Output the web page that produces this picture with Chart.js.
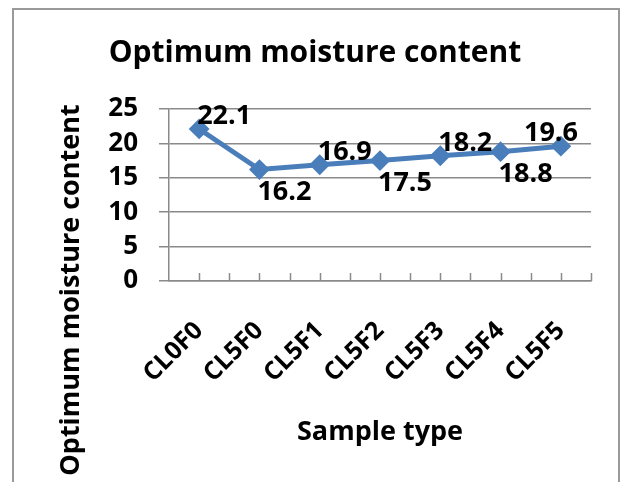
<!DOCTYPE html>
<html>
<head>
<meta charset="utf-8">
<title>Optimum moisture content</title>
<script src="https://cdn.jsdelivr.net/npm/chart.js@4/dist/chart.umd.min.js"></script>
<style>
  html, body { margin: 0; padding: 0; background: #fff; }
  #wrap { position: relative; width: 622px; height: 482px; overflow: hidden; }
  #frame { position: absolute; left: 12px; top: 8px; width: 604px; height: 520px; border: 2px solid #9a9a9a; }
  canvas { position: absolute; left: 0; top: 0; }
</style>
</head>
<body>
<div id="wrap">
  <div id="frame"></div>
  <canvas id="omcChart" width="622" height="482"></canvas>
</div>
<script>
// data
const categories = ['CL0F0', 'CL5F0', 'CL5F1', 'CL5F2', 'CL5F3', 'CL5F4', 'CL5F5'];
const moisture = [22.1, 16.2, 16.9, 17.5, 18.2, 18.8, 19.6];
const yMin = 0;
const yMax = 25;
const yStep = 5;

const chartTitle = 'Optimum moisture content';
const yTitle = 'Optimum moisture content';
const xTitle = 'Sample type';

const FONT = '"Open Sans", Lato, sans-serif';
const BLUE = '#4a7ebb';
const GRID = '#8a8a8a';

// chart title + vertical axis title, placed like the Excel original
const titlesPlugin = {
  id: 'titles',
  afterDraw(chart) {
    const ctx = chart.ctx;
    ctx.save();
    ctx.fillStyle = '#000';
    ctx.textAlign = 'center';
    ctx.textBaseline = 'alphabetic';
    ctx.font = 'bold 30px ' + FONT;
    ctx.fillText(chartTitle, 315, 62);

    ctx.translate(79, 290);
    ctx.rotate(-Math.PI / 2);
    ctx.font = 'bold 27px ' + FONT;
    ctx.fillText(yTitle, 0, 0);
    ctx.restore();
  }
};

// small upward tick marks on the category axis (every half category)
const xTickPlugin = {
  id: 'xTicks',
  beforeDatasetsDraw(chart) {
    const xs = chart.scales.x;
    const ctx = chart.ctx;
    const n = categories.length;
    const step = (xs.right - xs.left) / (2 * n);
    ctx.save();
    ctx.strokeStyle = GRID;
    ctx.lineWidth = 1.5;
    for (let k = 1; k <= 2 * n; k++) {
      const x = Math.round(xs.left + k * step) + 0.5;
      ctx.beginPath();
      ctx.moveTo(x, xs.top);
      ctx.lineTo(x, xs.top - 8);
      ctx.stroke();
    }
    ctx.restore();
  }
};

// value labels, alternating above / below and pushed to the right
const valueLabelPlugin = {
  id: 'valueLabels',
  afterDatasetsDraw(chart) {
    const meta = chart.getDatasetMeta(0);
    const area = chart.chartArea;
    const ctx = chart.ctx;
    ctx.save();
    ctx.font = 'bold 27px ' + FONT;
    ctx.fillStyle = '#000';
    ctx.textAlign = 'center';
    ctx.textBaseline = 'alphabetic';
    meta.data.forEach((pt, i) => {
      const txt = moisture[i].toFixed(1);
      const w = ctx.measureText(txt).width;
      const x = Math.min(pt.x + 25, area.right - 13 - w / 2);
      const y = i % 2 === 0 ? pt.y - 5 : pt.y + 30;
      ctx.fillText(txt, x, y);
    });
    ctx.restore();
  }
};

const ctx = document.getElementById('omcChart').getContext('2d');
new Chart(ctx, {
  type: 'line',
  data: {
    labels: categories,
    datasets: [{
      label: 'Optimum moisture content',
      data: moisture,
      borderColor: BLUE,
      backgroundColor: BLUE,
      borderWidth: 5,
      tension: 0,
      pointStyle: 'rectRot',
      pointRadius: 9,
      pointBorderWidth: 2,
      pointBackgroundColor: BLUE,
      pointBorderColor: BLUE
    }]
  },
  options: {
    responsive: false,
    animation: false,
    devicePixelRatio: 1,
    layout: { padding: { left: 0, right: 31, top: 109, bottom: 0 } },
    plugins: {
      legend: { display: false },
      tooltip: { enabled: false },
      title: { display: false }
    },
    scales: {
      x: {
        offset: true,
        grid: { display: false },
        border: { display: true, color: GRID, width: 1.5 },
        ticks: {
          color: '#000',
          font: { family: FONT, size: 25, weight: 'bold' },
          minRotation: 45,
          maxRotation: 45,
          padding: 27,
          autoSkip: false
        },
        title: {
          display: true,
          text: xTitle,
          color: '#000',
          font: { family: FONT, size: 27, weight: 'bold' },
          padding: { top: 0, bottom: 33 }
        },
        afterFit(scale) { scale.height = 201; }
      },
      y: {
        min: yMin,
        max: yMax,
        grid: { color: GRID, lineWidth: 1.5, tickLength: 10 },
        border: { display: true, color: GRID, width: 1.5 },
        ticks: {
          stepSize: yStep,
          color: '#000',
          padding: 21,
          font: { family: FONT, size: 26, weight: 'bold' }
        },
        afterFit(scale) { scale.width = 169; }
      }
    }
  },
  plugins: [titlesPlugin, xTickPlugin, valueLabelPlugin]
});
</script>
</body>
</html>
